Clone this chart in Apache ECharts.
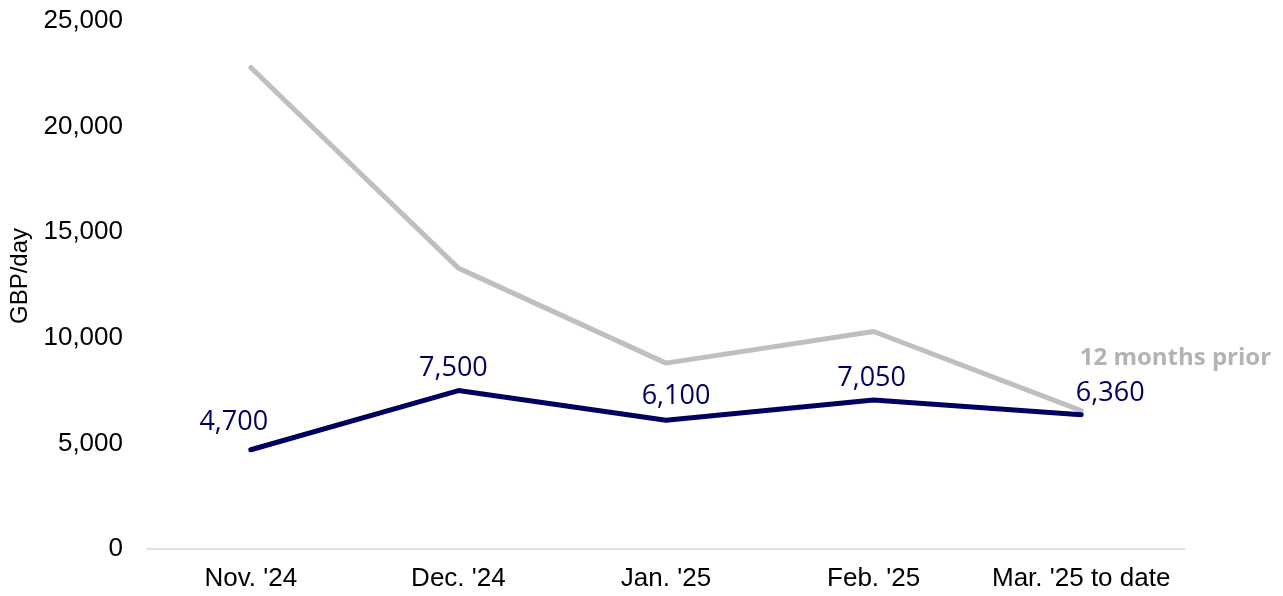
<!DOCTYPE html>
<html>
<head>
<meta charset="utf-8">
<script src="https://cdn.jsdelivr.net/npm/echarts@6/dist/echarts.min.js"></script>
<style>
  html, body { margin: 0; padding: 0; background: #fff; }
  #chart { width: 1283px; height: 596px; }
</style>
</head>
<body>
<div id="chart"></div>
<script>
/*
 * 数据
 */
var months = ["Nov. '24", "Dec. '24", "Jan. '25", "Feb. '25", "Mar. '25 to date"];
var currentRates = [4700, 7500, 6100, 7050, 6360];
var priorRates = [22800, 13300, 8800, 10300, 6550];
var priorName = '12 months prior';

// label offsets for the navy values
var labelShift = [[-17, -5], [-5, 0], [10, -2], [-2, 0], [29, 1]];

var chart = echarts.init(document.getElementById('chart'));

var currentData = currentRates.map(function(v, i) {
	return {
		value: v,
		label: { offset: labelShift[i] }
	};
});

var priorData = priorRates.map(function(v, i) {
	if (i == priorRates.length - 1) {
		return {
			value: v,
			label: {
				show: true,
				position: 'right',
				distance: 0,
				offset: [-2, -53],
				formatter: priorName,
				color: '#b3b3b3',
				fontWeight: 'bold',
				fontSize: 24,
				fontFamily: 'Open Sans'
			}
		};
	}
	return v;
});

var option = {
	animation: false,
	grid: { left: 146, right: 98, top: 21, bottom: 47 },
	xAxis: {
		type: 'category',
		data: months,
		boundaryGap: true,
		axisLine: { lineStyle: { color: '#d9d9d9', width: 1.5 } },
		axisTick: { show: false },
		axisLabel: {
			interval: 0,
			color: '#000',
			fontSize: 26,
			fontFamily: 'Liberation Sans',
			margin: 17
		}
	},
	yAxis: {
		type: 'value',
		min: 0,
		max: 25000,
		interval: 5000,
		name: 'GBP/day',
		nameLocation: 'middle',
		nameGap: 115,
		nameTextStyle: {
			color: '#000',
			fontSize: 24,
			fontFamily: 'Liberation Sans',
			padding: [0, 0, 0, 18]
		},
		axisLine: { show: false },
		axisTick: { show: false },
		splitLine: { show: false },
		axisLabel: {
			color: '#000',
			fontSize: 26,
			fontFamily: 'Liberation Sans',
			margin: 24,
			formatter: function(v) { return v.toLocaleString('en-US'); }
		}
	},
	series: [
		{
			name: priorName,
			type: 'line',
			data: priorData,
			symbol: 'circle',
			symbolSize: 1,
			itemStyle: { color: 'rgba(0,0,0,0)' },
			z: 1,
			lineStyle: { color: '#bfbfbf', width: 5, cap: 'round' }
		},
		{
			name: 'Current',
			type: 'line',
			data: currentData,
			symbol: 'circle',
			symbolSize: 1,
			itemStyle: { color: 'rgba(0,0,0,0)' },
			z: 2,
			lineStyle: { color: '#000060', width: 5, cap: 'round' },
			label: {
				show: true,
				position: 'top',
				distance: 8,
				color: '#000060',
				fontSize: 27,
				fontFamily: 'Open Sans',
				formatter: function(p) { return p.value.toLocaleString('en-US'); }
			}
		}
	]
};

chart.setOption(option);
</script>
</body>
</html>
